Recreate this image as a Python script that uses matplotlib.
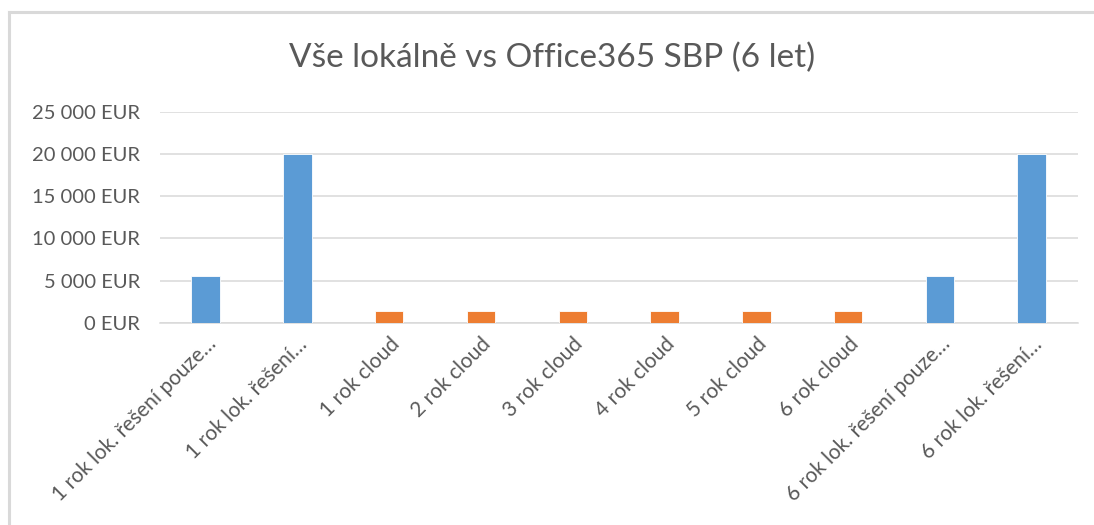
import matplotlib.pyplot as plt
from matplotlib.ticker import FuncFormatter
from matplotlib.lines import Line2D

title = "Vše lokálně vs Office365 SBP (6 let)"
categories = [
    "1 rok lok. řešení pouze…",
    "1 rok lok. řešení…",
    "1 rok cloud",
    "2 rok cloud",
    "3 rok cloud",
    "4 rok cloud",
    "5 rok cloud",
    "6 rok cloud",
    "6 rok lok. řešení pouze…",
    "6 rok lok. řešení…",
]
values = [5500, 20000, 1350, 1350, 1350, 1350, 1350, 1350, 5500, 20000]
is_cloud = [False, False, True, True, True, True, True, True, False, False]

blue = "#5B9BD5"
orange = "#ED7D31"
grey_text = "#595959"
grid_col = "#D9D9D9"

plt.rcParams['font.family'] = ['Lato', 'DejaVu Sans']

fig = plt.figure(figsize=(10.94, 5.25), dpi=100)
ax = fig.add_axes([0.146, 0.385, 0.839, 0.402])

x = list(range(len(categories)))
colors = [orange if c else blue for c in is_cloud]
ax.bar(x, values, width=0.31, color=colors, edgecolor='white', linewidth=0.6, zorder=3)

ax.set_xlim(-0.5, len(categories) - 0.5)
ax.set_ylim(0, 25000)
ax.set_yticks(range(0, 25001, 5000))
ax.yaxis.set_major_formatter(FuncFormatter(lambda v, p: f"{int(v):,} EUR".replace(",", " ")))
ax.grid(axis='y', color=grid_col, linewidth=1.1, zorder=0)
for s in ['top', 'right', 'left']:
    ax.spines[s].set_visible(False)
ax.spines['bottom'].set_color(grid_col)
ax.spines['bottom'].set_linewidth(1.1)
ax.tick_params(axis='both', length=0, colors=grey_text, labelsize=14.5)
ax.tick_params(axis='y', pad=14)

ax.set_xticks(x)
ax.set_xticklabels(categories, rotation=45, ha='right', rotation_mode='anchor', fontsize=15)
ax.tick_params(axis='x', pad=8)

fig.text(0.505, 0.89, title, ha='center', va='center', fontsize=24, color=grey_text)

# chart frame: only top and left edges are visible
fig.lines.append(Line2D([9 / 1094, 1.0], [1 - 12 / 525, 1 - 12 / 525], transform=fig.transFigure,
                        color=grid_col, linewidth=2.2))
fig.lines.append(Line2D([9 / 1094, 9 / 1094], [0.0, 1 - 12 / 525], transform=fig.transFigure,
                        color=grid_col, linewidth=2.2))

fig.savefig("out.png", dpi=100)
